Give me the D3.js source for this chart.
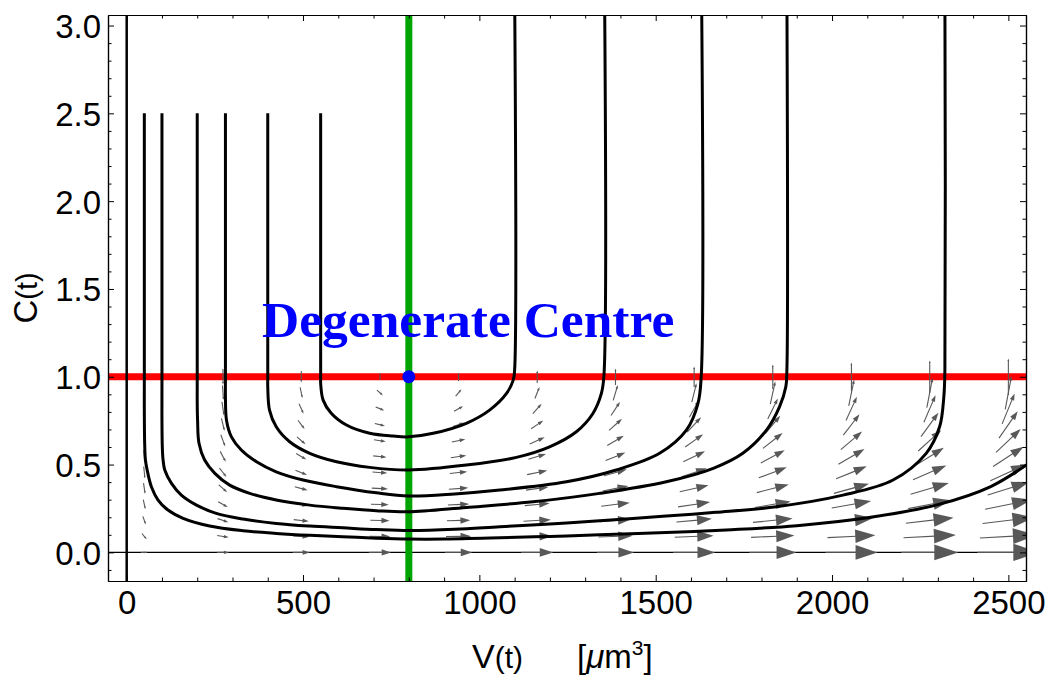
<!DOCTYPE html>
<html><head><meta charset="utf-8">
<script src="https://cdn.jsdelivr.net/npm/d3@7"></script>
<style>
body{margin:0;background:#fff}
svg{display:block}
.tick text{font-family:"Liberation Sans",Arial,sans-serif;font-size:33px;fill:#000}
</style>
</head><body>
<svg id="chart" width="1052" height="679"></svg>
<script>
// ---------- data ----------
const xTicks = [0, 500, 1000, 1500, 2000, 2500];
const xTickLabels = ["0", "500", "1000", "1500", "2000", "2500"];
const xMinorTicks = [100,200,300,400,600,700,800,900,1100,1200,1300,1400,1600,1700,1800,1900,2100,2200,2300,2400];
const yTicks = [0, 0.5, 1, 1.5, 2, 2.5, 3];
const yTickLabels = ["0.0", "0.5", "1.0", "1.5", "2.0", "2.5", "3.0"];
const yMinorTicks = [-0.1,0.1,0.2,0.3,0.4,0.6,0.7,0.8,0.9,1.1,1.2,1.3,1.4,1.6,1.7,1.8,1.9,2.1,2.2,2.3,2.4,2.6,2.7,2.8,2.9];

// vector field sample points
const gridV = [50, 273, 495, 718, 941, 1164, 1386, 1609, 1832, 2055, 2277, 2500];
const gridC = [0, 0.0909, 0.1818, 0.2727, 0.3636, 0.4545, 0.5455, 0.6364, 0.7273, 0.8182, 0.9091, 1.0];
// dV/dt at each sample (rows follow gridC, columns follow gridV)
const fieldDV = [
  [50, 273, 495, 718, 941, 1164, 1386, 1609, 1832, 2055, 2277, 2500],
  [45, 248, 450, 653, 855, 1058, 1260, 1463, 1665, 1868, 2070, 2273],
  [41, 223, 405, 587, 770, 952, 1134, 1316, 1499, 1681, 1863, 2045],
  [36, 199, 360, 522, 684, 847, 1008, 1170, 1332, 1495, 1656, 1818],
  [32, 174, 315, 457, 599, 741, 882, 1024, 1166, 1308, 1449, 1591],
  [27, 149, 270, 392, 513, 635, 756, 878, 999, 1121, 1242, 1364],
  [23, 124, 225, 326, 428, 529, 630, 731, 833, 934, 1035, 1136],
  [18, 99, 180, 261, 342, 423, 504, 585, 666, 747, 828, 909],
  [14, 74, 135, 196, 257, 317, 378, 439, 500, 560, 621, 682],
  [9, 50, 90, 131, 171, 212, 252, 293, 333, 374, 414, 455],
  [5, 25, 45, 65, 86, 106, 126, 146, 167, 187, 207, 227],
  [0, 0, 0, 0, 0, 0, 0, 0, 0, 0, 0, 0]
];
// dC/dt at each sample
const fieldDC = [
  [0, 0, 0, 0, 0, 0, 0, 0, 0, 0, 0, 0],
  [-0.109, -0.077, -0.044, -0.012, 0.021, 0.053, 0.085, 0.118, 0.150, 0.183, 0.215, 0.247],
  [-0.218, -0.153, -0.089, -0.024, 0.041, 0.106, 0.170, 0.235, 0.300, 0.365, 0.430, 0.495],
  [-0.327, -0.230, -0.133, -0.036, 0.062, 0.159, 0.256, 0.353, 0.450, 0.548, 0.645, 0.742],
  [-0.436, -0.306, -0.177, -0.048, 0.082, 0.212, 0.341, 0.471, 0.600, 0.730, 0.859, 0.989],
  [-0.545, -0.383, -0.222, -0.060, 0.103, 0.265, 0.426, 0.588, 0.751, 0.913, 1.074, 1.236],
  [-0.655, -0.460, -0.266, -0.071, 0.123, 0.318, 0.511, 0.706, 0.901, 1.095, 1.289, 1.484],
  [-0.764, -0.536, -0.311, -0.083, 0.144, 0.371, 0.597, 0.824, 1.051, 1.278, 1.504, 1.731],
  [-0.873, -0.613, -0.355, -0.095, 0.164, 0.424, 0.682, 0.941, 1.201, 1.460, 1.719, 1.978],
  [-0.982, -0.689, -0.399, -0.107, 0.185, 0.477, 0.767, 1.059, 1.351, 1.643, 1.934, 2.225],
  [-1.091, -0.766, -0.444, -0.119, 0.205, 0.530, 0.852, 1.177, 1.501, 1.826, 2.148, 2.473],
  [-1.200, -0.843, -0.488, -0.131, 0.226, 0.582, 0.938, 1.294, 1.651, 2.008, 2.363, 2.720]
];

// trajectories [V, C]
const trajA = [[50,2.5],[50,1.0],[50,0.8],[51,0.62],[53,0.53],[58,0.469],[70,0.374],[89,0.298],[117,0.241],[160,0.194],[235,0.150],[330,0.123],[424,0.108],[519,0.097],[613,0.089],[708,0.081],[800,0.076],[900,0.076],[1058,0.083],[1200,0.091],[1341,0.100],[1530,0.113],[1700,0.128],[1900,0.152],[2100,0.197],[2300,0.272],[2450,0.375],[2560,0.51]];
const trajB = [[100,2.5],[100,1.0],[100,0.75],[101,0.60],[103,0.53],[108,0.469],[127,0.393],[155,0.326],[198,0.269],[254,0.222],[330,0.190],[424,0.165],[519,0.150],[613,0.140],[708,0.130],[800,0.124],[930,0.131],[1058,0.146],[1200,0.162],[1341,0.180],[1530,0.207],[1670,0.228],[1842,0.260],[2031,0.326],[2173,0.412],[2267,0.564],[2305,0.715],[2317,0.886],[2320,1.04],[2320,3.2]];
const trajC = [[200,2.5],[200,1.0],[200,0.85],[201,0.753],[205,0.621],[221,0.526],[250,0.450],[292,0.383],[349,0.336],[424,0.298],[519,0.269],[613,0.251],[708,0.237],[800,0.231],[963,0.256],[1152,0.288],[1341,0.336],[1530,0.402],[1665,0.480],[1747,0.564],[1814,0.696],[1851,0.829],[1869,0.943],[1872,1.04],[1872,3.2]];
const trajD = [[280,2.5],[280,1.0],[280,0.886],[283,0.753],[297,0.658],[325,0.583],[368,0.516],[424,0.459],[500,0.412],[595,0.374],[708,0.339],[800,0.321],[930,0.333],[1058,0.355],[1247,0.402],[1388,0.469],[1511,0.564],[1587,0.696],[1620,0.849],[1629,1.0],[1630,3.2]];
const trajE = [[400,2.5],[400,1.0],[400,0.943],[405,0.810],[424,0.715],[462,0.630],[519,0.564],[595,0.516],[689,0.484],[800,0.469],[963,0.497],[1105,0.541],[1199,0.601],[1275,0.687],[1322,0.791],[1346,0.905],[1353,1.0],[1355,3.2]];
const trajF = [[550,2.5],[550,1.0],[550,0.962],[557,0.867],[580,0.792],[623,0.725],[689,0.678],[755,0.662],[800,0.658],[869,0.678],[963,0.735],[1029,0.810],[1077,0.905],[1096,0.981],[1100,1.04],[1100,3.2]];
const trajectories = [trajA, trajB, trajC, trajD, trajE, trajF];
const axisTrajectory = [[0,-0.2],[0,3.2]];

const nullclineC = 1.0;
const nullclineV = 800;
const centrePoint = [800, 1.0];
const titleText = "Degenerate Centre";

// ---------- chart ----------
const svg = d3.select("#chart");
const x = d3.scaleLinear().domain([-53, 2550]).range([108, 1026]);
const y = d3.scaleLinear().domain([-0.163, 3.06]).range([581, 15]);
const [xL, xR] = x.range();
const [yB, yT] = y.range();

svg.append("defs").append("clipPath").attr("id", "clip")
  .append("rect").attr("x", xL).attr("y", yT).attr("width", xR - xL).attr("height", yB - yT);
const plot = svg.append("g").attr("clip-path", "url(#clip)");

// C = 0 line
plot.append("line").attr("x1", xL).attr("x2", xR).attr("y1", y(0)).attr("y2", y(0))
  .attr("stroke", "#000").attr("stroke-width", 1.3);

// nullclines
plot.append("line").attr("x1", xL).attr("x2", xR).attr("y1", y(nullclineC)).attr("y2", y(nullclineC))
  .attr("stroke", "#ff0000").attr("stroke-width", 7);
plot.append("line").attr("x1", x(nullclineV)).attr("x2", x(nullclineV)).attr("y1", yB).attr("y2", yT)
  .attr("stroke", "#00a400").attr("stroke-width", 7);

// vector field
const arrows = [];
gridC.forEach((C, i) => {
  gridV.forEach((V, j) => {
    const dx = x(V + fieldDV[i][j]) - x(V);
    const dy = y(C + fieldDC[i][j]) - y(C);
    arrows.push({cx: x(V), cy: y(C), dx, dy, m: Math.hypot(dx, dy)});
  });
});
const mMax = d3.max(arrows, d => d.m);
const lenScale = d3.scaleLinear().domain([0, mMax]).range([6, 62]);
const ag = plot.append("g");
arrows.forEach(a => {
  if (a.m === 0) return;
  const L = lenScale(a.m);
  const hs = lenScale(Math.abs(a.dx));
  const ux = a.dx / a.m, uy = a.dy / a.m;
  const tx = a.cx - ux * L / 2, ty = a.cy - uy * L / 2;
  const hx = a.cx + ux * L / 2, hy = a.cy + uy * L / 2;
  const hl = 0.42 * hs, hw = 0.14 * hs;
  const bx = hx - ux * hl, by = hy - uy * hl;
  ag.append("line").attr("x1", tx).attr("y1", ty).attr("x2", bx + ux * 1).attr("y2", by + uy * 1)
    .attr("stroke", "#585858").attr("stroke-width", 1.1);
  ag.append("path")
    .attr("d", `M${hx},${hy}L${bx - uy * hw},${by + ux * hw}L${bx + uy * hw},${by - ux * hw}Z`)
    .attr("fill", "#585858");
});

// trajectories
const line = d3.line().x(d => x(d[0])).y(d => y(d[1])).curve(d3.curveCatmullRom.alpha(0.5));
plot.append("path").attr("d", line(axisTrajectory)).attr("fill", "none").attr("stroke", "#000").attr("stroke-width", 2.5);
trajectories.forEach(t => {
  plot.append("path").attr("d", line(t)).attr("fill", "none")
    .attr("stroke", "#000").attr("stroke-width", 3).attr("stroke-linejoin", "round");
});

// centre point
plot.append("circle").attr("cx", x(centrePoint[0])).attr("cy", y(centrePoint[1])).attr("r", 6.5).attr("fill", "#0000ff");

// title
svg.append("text").attr("x", 262).attr("y", 337)
  .attr("font-family", "'Liberation Serif','Times New Roman',serif").attr("font-weight", "bold")
  .attr("font-size", 51.5).attr("fill", "#0000ff").text(titleText);

// axes / frame
function styleAxis(g) {
  g.selectAll("path.domain").attr("stroke", "#000").attr("stroke-width", 1.2);
  g.selectAll(".tick line").attr("stroke", "#000").attr("stroke-width", 1);
}
const fmtX = (d, i) => xTickLabels[i];
const fmtY = (d, i) => yTickLabels[i];
svg.append("g").attr("transform", `translate(0,${yB})`)
  .call(d3.axisBottom(x).tickValues(xTicks).tickFormat(fmtX).tickSizeInner(-6).tickSizeOuter(0).tickPadding(10)).call(styleAxis);
svg.append("g").attr("transform", `translate(0,${yB})`)
  .call(d3.axisBottom(x).tickValues(xMinorTicks).tickFormat("").tickSizeInner(-3.5).tickSizeOuter(0)).call(styleAxis);
svg.append("g").attr("transform", `translate(0,${yT})`)
  .call(d3.axisTop(x).tickValues(xTicks).tickFormat("").tickSizeInner(-6).tickSizeOuter(0)).call(styleAxis);
svg.append("g").attr("transform", `translate(0,${yT})`)
  .call(d3.axisTop(x).tickValues(xMinorTicks).tickFormat("").tickSizeInner(-3.5).tickSizeOuter(0)).call(styleAxis);
svg.append("g").attr("transform", `translate(${xL},0)`)
  .call(d3.axisLeft(y).tickValues(yTicks).tickFormat(fmtY).tickSizeInner(-6).tickSizeOuter(0).tickPadding(7)).call(styleAxis)
  .selectAll(".tick text").attr("dy", "0.36em");
svg.append("g").attr("transform", `translate(${xL},0)`)
  .call(d3.axisLeft(y).tickValues(yMinorTicks).tickFormat("").tickSizeInner(-3.5).tickSizeOuter(0)).call(styleAxis);
svg.append("g").attr("transform", `translate(${xR},0)`)
  .call(d3.axisRight(y).tickValues(yTicks).tickFormat("").tickSizeInner(-6).tickSizeOuter(0)).call(styleAxis);
svg.append("g").attr("transform", `translate(${xR},0)`)
  .call(d3.axisRight(y).tickValues(yMinorTicks).tickFormat("").tickSizeInner(-3.5).tickSizeOuter(0)).call(styleAxis);

// axis labels
const lf = "'Liberation Sans',Arial,sans-serif";
const xl = svg.append("text").attr("x", 472).attr("y", 668).attr("font-family", lf).attr("fill", "#000");
xl.append("tspan").attr("font-size", 34).text("V");
xl.append("tspan").attr("font-size", 30).text("(t)");
const ul = svg.append("text").attr("x", 577).attr("y", 668).attr("font-family", lf).attr("fill", "#000").attr("font-size", 33);
ul.append("tspan").text("[");
ul.append("tspan").attr("font-style", "italic").text("\u03bc");
ul.append("tspan").text("m");
ul.append("tspan").attr("font-size", 21).attr("dy", -13).text("3");
ul.append("tspan").attr("dy", 13).text("]");

const yl = svg.append("text").attr("transform", "translate(37,298) rotate(-90)")
  .attr("text-anchor", "middle").attr("font-family", lf).attr("fill", "#000");
yl.append("tspan").attr("font-size", 33).text("C");
yl.append("tspan").attr("font-size", 29).text("(t)");
</script>
</body></html>
